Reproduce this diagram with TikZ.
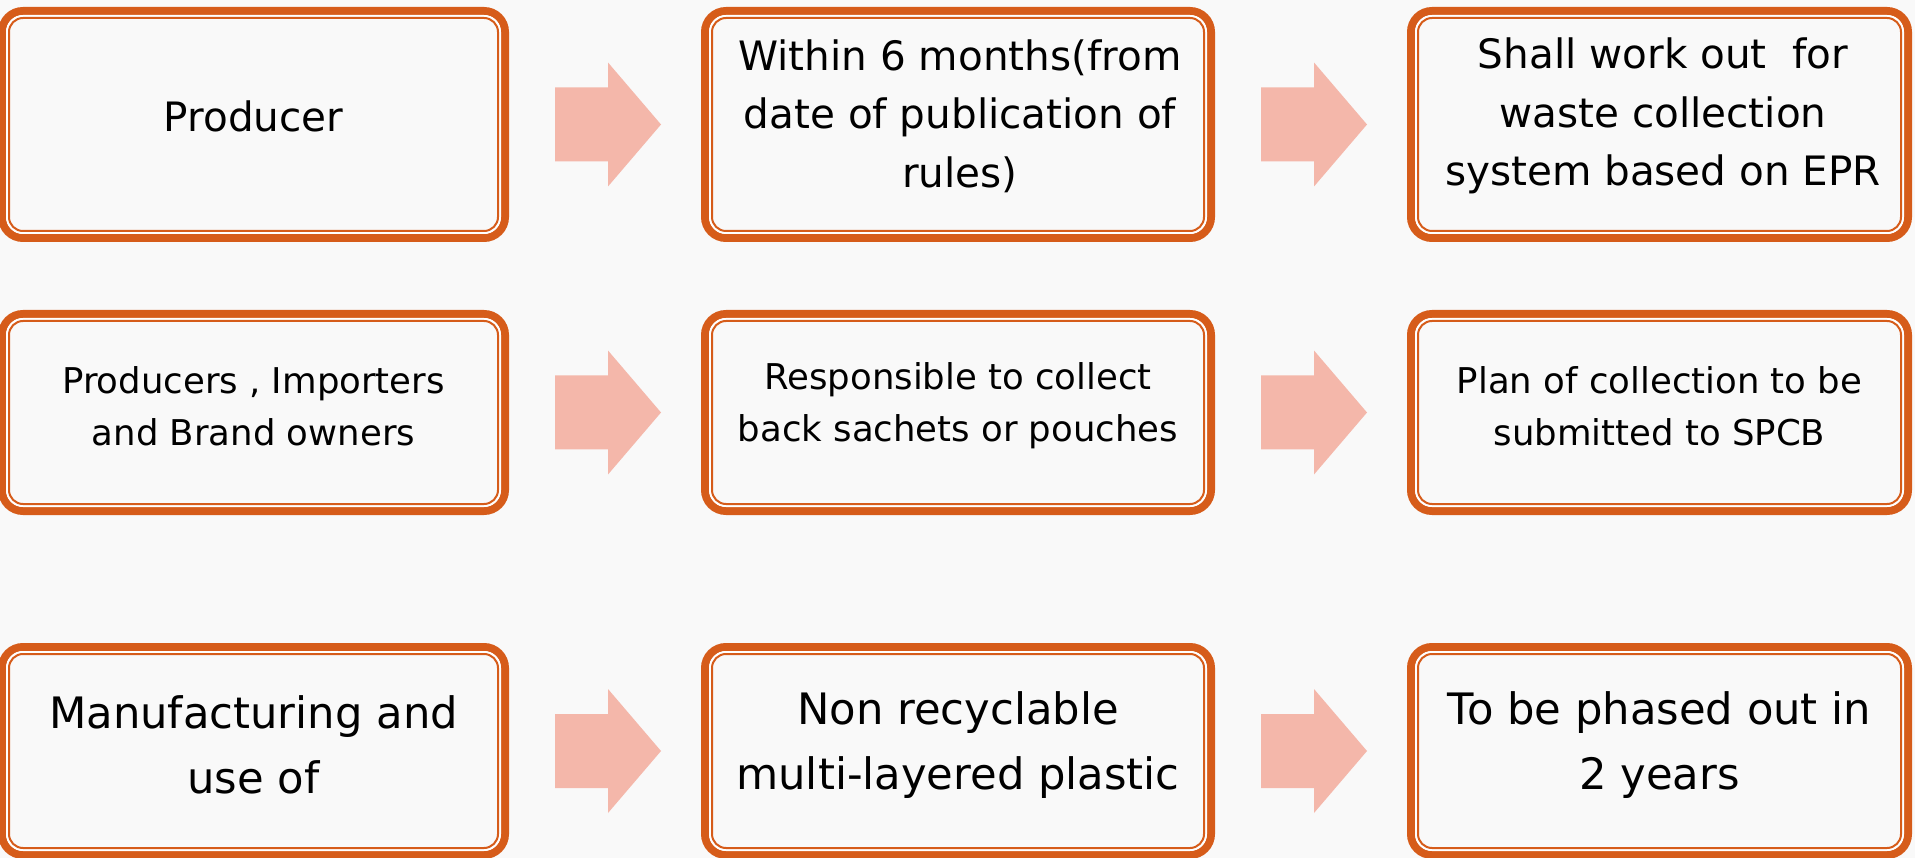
\documentclass[tikz,border=0pt]{standalone}
\usepackage{fontspec}
\setmainfont{DejaVu Sans}
\usetikzlibrary{calc}
\definecolor{boxorange}{RGB}{214,92,26}
\definecolor{arrowpink}{RGB}{244,183,170}
\definecolor{bgcol}{RGB}{249,249,249}
\tikzset{
  stagebox/.style={draw=boxorange, line width=8pt, rounded corners=21pt, outer sep=0pt, inner sep=0pt},
  innerwhite/.style={draw=white, line width=2pt, rounded corners=16pt},
  innerorange/.style={draw=boxorange, line width=2pt, rounded corners=14pt},
  txtA/.style={align=center, inner sep=0pt, font=\fontsize{40.5pt}{58.6pt}\selectfont},
  txtB/.style={align=center, inner sep=0pt, font=\fontsize{35.5pt}{52pt}\selectfont},
  txtC/.style={align=center, inner sep=0pt, font=\fontsize{43.3pt}{65pt}\selectfont}
}
\newcommand\boxlines[1]{%
  \draw[innerwhite] ([shift={(5pt,-5pt)}]#1.north west) rectangle ([shift={(-5pt,5pt)}]#1.south east);
  \draw[innerorange] ([shift={(7pt,-7pt)}]#1.north west) rectangle ([shift={(-7pt,7pt)}]#1.south east);}
\newcommand\blockarrow[2]{%
  \fill[arrowpink] let \p1=(#1.east), \p2=(#2.west) in
    (\x1+50pt,\y1-37pt) -- (\x1+103pt,\y1-37pt) -- (\x1+103pt,\y1-62pt) --
    (\x2-44pt,\y1) -- (\x1+103pt,\y1+62pt) -- (\x1+103pt,\y1+37pt) --
    (\x1+50pt,\y1+37pt) -- cycle;}
\begin{document}
\begin{tikzpicture}[x=1pt,y=-1pt]
\fill[bgcol] (0,0) rectangle (1915,858);
\useasboundingbox (0,0) rectangle (1915,858);
% boxes
\node[stagebox, minimum width=503pt, minimum height=227pt] (b11) at (253.5,124.5) {};
\node[stagebox, minimum width=506pt, minimum height=227pt] (b12) at (958,124.5) {};
\node[stagebox, minimum width=497pt, minimum height=227pt] (b13) at (1659.5,124.5) {};
\node[stagebox, minimum width=503pt, minimum height=197pt] (b21) at (253.5,412.5) {};
\node[stagebox, minimum width=506pt, minimum height=197pt] (b22) at (958,412.5) {};
\node[stagebox, minimum width=497pt, minimum height=197pt] (b23) at (1659.5,412.5) {};
\node[stagebox, minimum width=503pt, minimum height=208pt] (b31) at (253.5,751) {};
\node[stagebox, minimum width=506pt, minimum height=208pt] (b32) at (958,751) {};
\node[stagebox, minimum width=497pt, minimum height=208pt] (b33) at (1659.5,751) {};
\foreach \b in {b11,b12,b13,b21,b22,b23,b31,b32,b33}{\boxlines{\b}}
% arrows
\blockarrow{b11}{b12}
\blockarrow{b12}{b13}
\blockarrow{b21}{b22}
\blockarrow{b22}{b23}
\blockarrow{b31}{b32}
\blockarrow{b32}{b33}
% texts
\node[txtA] (t11) at (253.5,116) {Producer};
\node[txtA] (t12) at (960,116) {Within 6 months(from\\date of publication of\\rules)};
\node[txtA] (t13) at (1663,116) {Shall work out~~for\\waste collection\\system based on EPR};
\node[txtB] (t21) at (253.5,406) {Producers , Importers\\and Brand owners};
\node[txtB] (t22) at (958,406) {Responsible to collect\\back sachets or pouches};
\node[txtB] (t23) at (1659.5,406) {Plan of collection to be\\submitted to SPCB};
\node[txtC] (t31) at (253.5,745) {Manufacturing and\\use of};
\node[txtC] (t32) at (958,745) {Non recyclable\\multi-layered plastic};
\node[txtC] (t33) at (1659.5,745) {To be phased out in\\2 years};
\end{tikzpicture}
\end{document}
